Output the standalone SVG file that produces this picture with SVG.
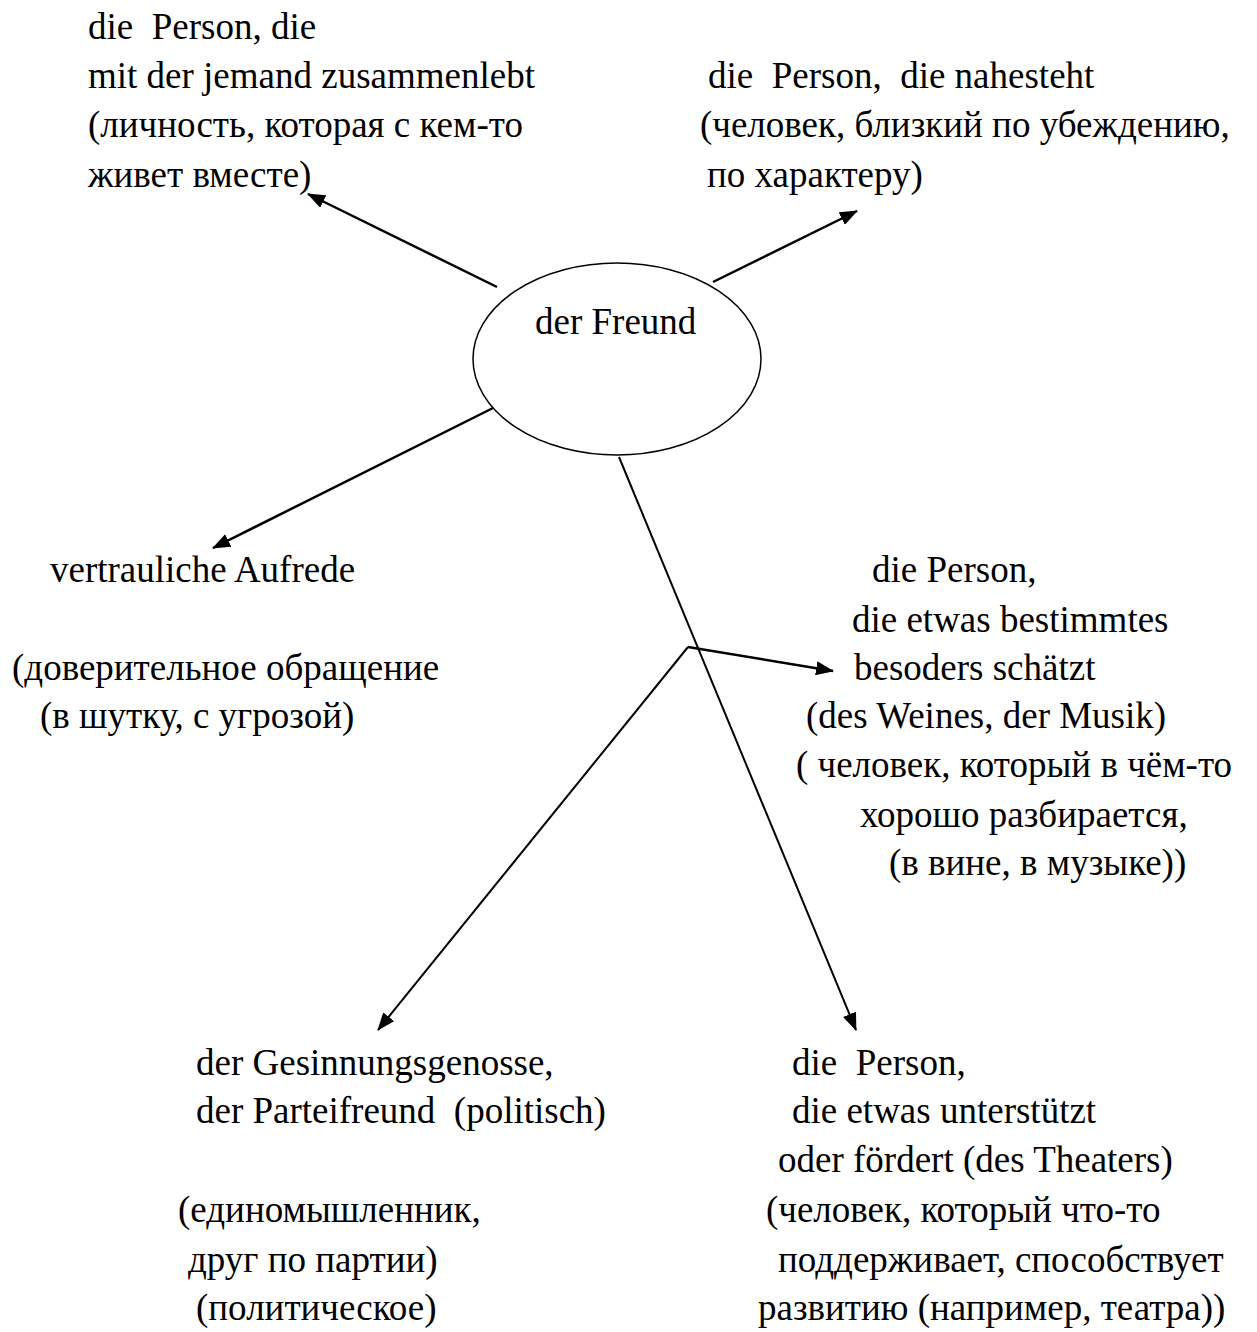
<svg xmlns="http://www.w3.org/2000/svg" width="1257" height="1332" viewBox="0 0 1257 1332">
  <style>
    text { font-family: "Liberation Serif", "Times New Roman", serif; font-size: 37px; fill: #000; white-space: pre; }
    .conn { fill: none; stroke: #000; stroke-width: 2; }
    .conn.thick { stroke-width: 2.5; }
    .hub { fill: #fff; stroke: #000; stroke-width: 1.5; }
  </style>
  <defs>
    <marker id="arrow" viewBox="0 0 18 14" refX="17" refY="7" markerWidth="18" markerHeight="14" markerUnits="userSpaceOnUse" orient="auto">
      <path d="M0,0 L18,7 L0,14 z" fill="#000"/>
    </marker>
  </defs>

  <rect width="1257" height="1332" fill="#fff"/>

  <!-- connectors from the central word -->
  <g id="connectors">
    <line class="conn thick" x1="497" y1="287" x2="308" y2="194" marker-end="url(#arrow)"/>
    <line class="conn thick" x1="713" y1="282" x2="857" y2="211" marker-end="url(#arrow)"/>
    <line class="conn thick" x1="497" y1="406" x2="213" y2="548" marker-end="url(#arrow)"/>
    <line class="conn" x1="619" y1="457" x2="856" y2="1030" marker-end="url(#arrow)"/>
    <line class="conn" x1="688" y1="647" x2="378" y2="1030" marker-end="url(#arrow)"/>
    <line class="conn thick" x1="688" y1="647" x2="833" y2="671" marker-end="url(#arrow)"/>
  </g>

  <g id="center">
    <ellipse class="hub" cx="617" cy="359" rx="144" ry="96"/>
    <text x="535" y="334">der Freund</text>
  </g>

  <g id="partner">
    <text x="88" y="39">die  Person, die</text>
    <text x="88" y="88">mit der jemand zusammenlebt</text>
    <text x="88" y="137">(личность, которая с кем-то</text>
    <text x="88" y="187">живет вместе)</text>
  </g>

  <g id="close-person">
    <text x="708" y="88">die  Person,  die nahesteht</text>
    <text x="700" y="137">(человек, близкий по убеждению,</text>
    <text x="707" y="187">по характеру)</text>
  </g>

  <g id="address">
    <text x="50" y="582">vertrauliche Aufrede</text>
    <text x="12" y="680">(доверительное обращение</text>
    <text x="40" y="728">(в шутку, с угрозой)</text>
  </g>

  <g id="connoisseur">
    <text x="872" y="582">die Person,</text>
    <text x="852" y="632">die etwas bestimmtes</text>
    <text x="854" y="680">besoders schätzt</text>
    <text x="806" y="728">(des Weines, der Musik)</text>
    <text x="796" y="777">( человек, который в чём-то</text>
    <text x="860" y="827">хорошо разбирается,</text>
    <text x="889" y="875">(в вине, в музыке))</text>
  </g>

  <g id="comrade">
    <text x="196" y="1075">der Gesinnungsgenosse,</text>
    <text x="196" y="1123">der Parteifreund  (politisch)</text>
    <text x="178" y="1222">(единомышленник,</text>
    <text x="188" y="1272">друг по партии)</text>
    <text x="196" y="1320">(политическое)</text>
  </g>

  <g id="patron">
    <text x="792" y="1075">die  Person,</text>
    <text x="792" y="1123">die etwas unterstützt</text>
    <text x="778" y="1172">oder fördert (des Theaters)</text>
    <text x="766" y="1222">(человек, который что-то</text>
    <text x="778" y="1272">поддерживает, способствует</text>
    <text x="758" y="1320">развитию (например, театра))</text>
  </g>
</svg>
